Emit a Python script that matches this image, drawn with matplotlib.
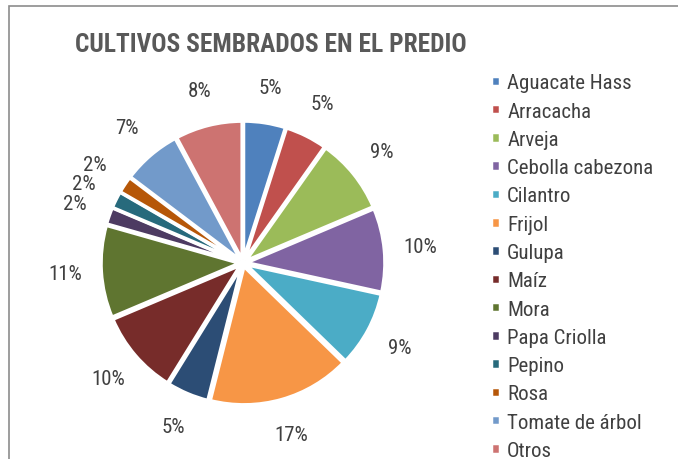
import matplotlib
matplotlib.use("Agg")
import matplotlib.pyplot as plt
from matplotlib.patches import Rectangle

categories = ["Aguacate Hass", "Arracacha", "Arveja", "Cebolla cabezona", "Cilantro",
              "Frijol", "Gulupa", "Maíz", "Mora", "Papa Criolla", "Pepino", "Rosa",
              "Tomate de árbol", "Otros"]
values = [5, 5, 9, 10, 9, 17, 5, 10, 11, 2, 2, 2, 7, 8]
colors = ["#4F81BD", "#C0504D", "#9BBB59", "#8064A2", "#4BACC6", "#F79646", "#2C4D75",
          "#772C2A", "#5F7530", "#4D3B62", "#276A7C", "#B65708", "#729ACA", "#CD7371"]
title = "CULTIVOS SEMBRADOS EN EL PREDIO"

plt.rcParams["font.family"] = ["Roboto Condensed", "Archivo Narrow", "DejaVu Sans"]

W, H = 678, 460
fig = plt.figure(figsize=(W / 100, H / 100), dpi=100)

# chart frame
fig.patches.append(Rectangle((9 / W, -0.1), 1.2, (H - 7) / H + 0.1, transform=fig.transFigure,
                             fill=False, edgecolor="#8c8c8c", linewidth=1.2))

cx, cy, r = 243, 196, 138.5
lim = 1.4
ax = fig.add_axes([(cx - lim * r) / W, (cy - lim * r) / H, 2 * lim * r / W, 2 * lim * r / H])
wedges, texts, autotexts = ax.pie(values, colors=colors, startangle=90, counterclock=False,
                                  explode=[0.025] * len(values), autopct="%.0f%%",
                                  pctdistance=1.26,
                                  wedgeprops=dict(edgecolor="white", linewidth=2.5))
for t in autotexts:
    t.set_fontsize(15)
    t.set_color("#404040")
ax.set_xlim(-lim, lim)
ax.set_ylim(-lim, lim)
ax.set_aspect("equal")
ax.axis("off")

fig.text(271 / W, 1 - 45 / H, title, ha="center", va="center", fontsize=18.3,
         fontweight="bold", color="#595959")

leg = fig.legend(wedges, categories, loc="upper left", bbox_to_anchor=(483 / W, 1 - 66 / H),
                 frameon=False, fontsize=15, labelcolor="#404040", handlelength=0.4,
                 handleheight=0.4, handletextpad=0.36, labelspacing=0.445, borderaxespad=0)

fig.savefig("out.png", dpi=100)
